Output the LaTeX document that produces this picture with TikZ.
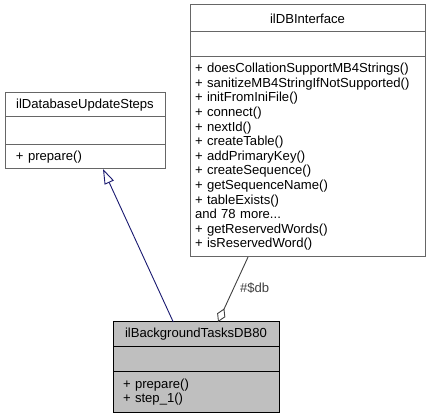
\documentclass[tikz,border=0pt]{standalone}
\usepackage{fontspec}
\setmainfont{Liberation Sans}
\usetikzlibrary{positioning,arrows.meta,calc,shapes}
\definecolor{navyedge}{RGB}{25,25,112}
\definecolor{grey25}{RGB}{64,64,64}
\definecolor{grey40}{RGB}{102,102,102}
\definecolor{grey75}{RGB}{191,191,191}

\begin{document}
\begin{tikzpicture}[x=1pt, y=-1pt,
  part/.style={draw=grey40, fill=white, line width=1pt, inner sep=0pt,
    outer sep=0pt, font=\fontsize{13.1}{14.6}\selectfont},
  ops/.style={part, align=left, inner xsep=#1},
  self/.style={fill=grey75, draw=black}]

  \useasboundingbox (0,0) rectangle (431,419);

  % ilDatabaseUpdateSteps
  \node[part, anchor=north west, minimum width=160, minimum height=24]
    (steps) at (5,93) {ilDatabaseUpdateSteps};
  \node[part, minimum width=160, minimum height=28, below=0pt of steps]
    (stepsattr) {};
  \node[ops=11pt, text width=138, minimum height=24, below=0pt of stepsattr]
    (stepsops) {+ prepare()};

  % ilDBInterface
  \node[part, anchor=north west, minimum width=235, minimum height=27]
    (dbi) at (190,5) {ilDBInterface};
  \node[part, minimum width=235, minimum height=25, below=0pt of dbi]
    (dbiattr) {};
  \node[ops=5pt, text width=225, minimum height=200, below=0pt of dbiattr]
    (dbiops) {+ doesCollationSupportMB4Strings()\\
    + sanitizeMB4StringIfNotSupported()\\
    + initFromIniFile()\\
    + connect()\\
    + nextId()\\
    + createTable()\\
    + addPrimaryKey()\\
    + createSequence()\\
    + getSequenceName()\\
    + tableExists()\\
    and 78 more...\\
    + getReservedWords()\\
    + isReservedWord()};

  % ilBackgroundTasksDB80
  \node[part, self, anchor=north west, minimum width=166, minimum height=25]
    (bgtask) at (113,322) {ilBackgroundTasksDB80};
  \node[part, self, minimum width=166, minimum height=25, below=0pt of bgtask]
    (bgtaskattr) {};
  \node[ops=10pt, self, text width=146, minimum height=40.5, below=0pt of bgtaskattr]
    (bgtaskops) {+ prepare()\\+ step\_1()};

  \draw[navyedge, line width=0.9pt, -{Triangle[open, length=15pt, width=10pt]}]
    ($(bgtask.north west)!0.363!(bgtask.north east)$)
    -- ($(stepsops.south west)!0.6125!(stepsops.south east)$);

  \draw[grey25, line width=0.9pt, -{Diamond[open, length=15pt, width=9pt]}]
    ($(dbiops.south west)!0.247!(dbiops.south east)$)
    -- node[pos=0.48, right=6pt, inner sep=0pt, text=grey25,
      font=\fontsize{13.1}{14.6}\selectfont] (dblabel) {\#\$db}
    ($(bgtask.north west)!0.633!(bgtask.north east)$);

\end{tikzpicture}
\end{document}
